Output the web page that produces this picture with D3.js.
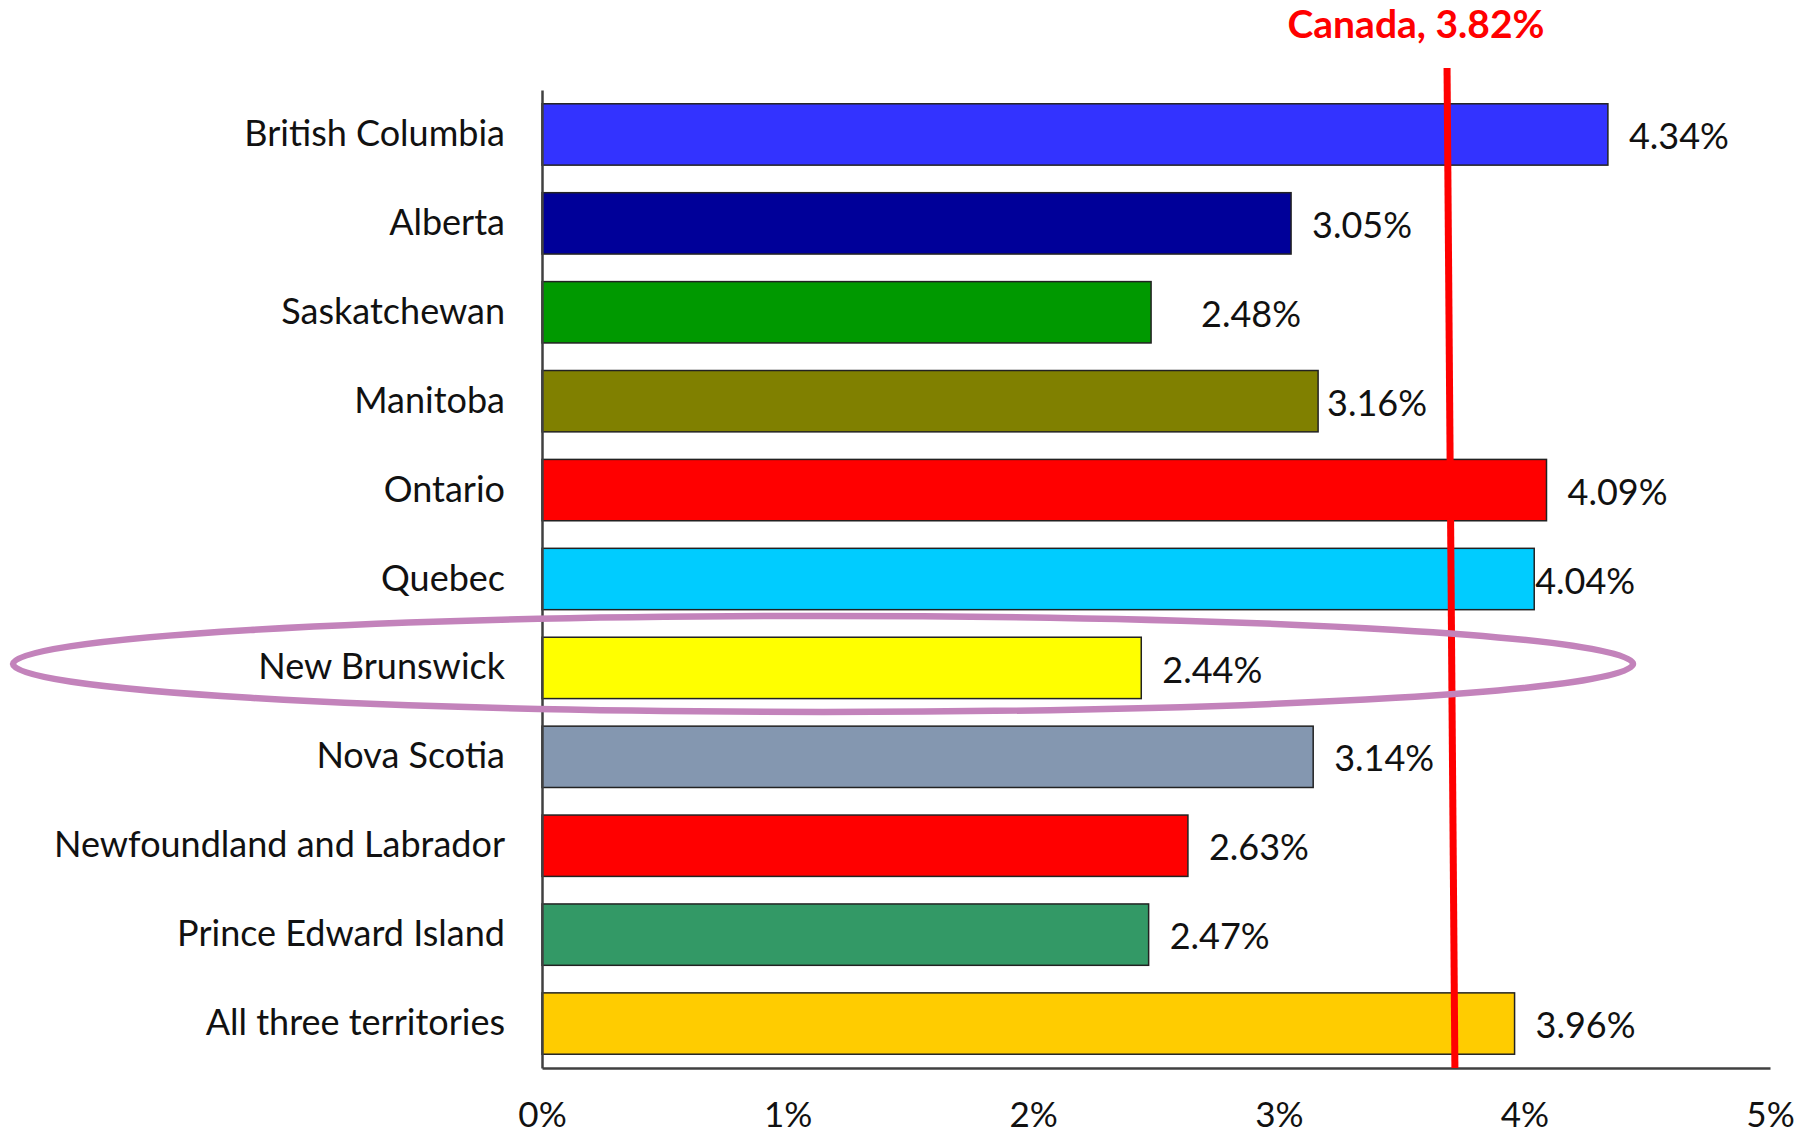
<!DOCTYPE html>
<html>
<head>
<meta charset="utf-8">
<script src="https://cdn.jsdelivr.net/npm/d3@7"></script>
<style>
  body { margin: 0; background: #fff; }
  svg { display: block; }
</style>
</head>
<body>
<svg id="chart"></svg>
<script>
// data
const provinces = [
  "British Columbia", "Alberta", "Saskatchewan", "Manitoba", "Ontario", "Quebec",
  "New Brunswick", "Nova Scotia", "Newfoundland and Labrador", "Prince Edward Island",
  "All three territories"
];
const shares = [4.34, 3.05, 2.48, 3.16, 4.09, 4.04, 2.44, 3.14, 2.63, 2.47, 3.96];
const barColors = [
  "#3333ff", "#000099", "#009900", "#808000", "#ff0000", "#00ccff",
  "#ffff00", "#8497b0", "#ff0000", "#339966", "#ffcc00"
];
const xTicks = [0, 1, 2, 3, 4, 5];
const canadaLabel = "Canada, 3.82%";
const canadaLine = [3.685, 3.717]; // drawn slightly slanted in the original
const highlighted = "New Brunswick";

const svgWidth = 1799;
const svgHeight = 1136;
const font = "Lato, 'Open Sans', sans-serif";
const fontSize = 36;

let svg = d3.select("#chart")
  .attr("width", svgWidth)
  .attr("height", svgHeight);

svg.append("rect")
  .attr("width", svgWidth)
  .attr("height", svgHeight)
  .style("fill", "#fff");

let x = d3.scaleLinear()
  .domain([0, 5])
  .range([542, 1770]);
let y = d3.scaleBand()
  .domain(provinces)
  .range([90, 1068])
  .paddingInner(0.31)
  .paddingOuter(0.155);

// bars
svg.selectAll(".bar")
  .data(provinces)
  .enter()
  .append("rect")
  .attr("class", "bar")
  .attr("x", x(0))
  .attr("y", d => y(d))
  .attr("width", (d, i) => x(shares[i]) - x(0))
  .attr("height", y.bandwidth())
  .style("fill", (d, i) => barColors[i])
  .style("stroke", "#222")
  .style("stroke-width", 1.5);

// value labels, a few were nudged by hand in the original
let nudge = { "Saskatchewan": 29, "Manitoba": -12, "Quebec": -20 };
svg.selectAll(".value")
  .data(provinces)
  .enter()
  .append("text")
  .attr("class", "value")
  .attr("x", (d, i) => x(shares[i]) + 21 + (nudge[d] || 0))
  .attr("y", d => y(d) + y.bandwidth() / 2 + 2)
  .attr("dy", "0.35em")
  .text((d, i) => shares[i].toFixed(2) + "%")
  .style("font-family", font)
  .style("font-size", fontSize)
  .style("fill", "#111");

// x-axis
svg.append("g")
  .attr("transform", "translate(0," + y.range()[1] + ")")
  .call(d3.axisBottom(x).tickValues(xTicks).tickFormat(d => d + "%").tickSize(0).tickSizeOuter(0))
  .call(g => g.select(".domain").style("stroke", "#404040").style("stroke-width", 2.5))
  .selectAll(".tick text")
  .attr("y", 47)
  .attr("dy", "0.35em")
  .style("font-family", font)
  .style("font-size", 35)
  .style("fill", "#111");

// y-axis
svg.append("g")
  .attr("transform", "translate(" + x(0) + ",0)")
  .call(d3.axisLeft(y).tickSize(0).tickSizeOuter(0).tickPadding(37))
  .call(g => g.select(".domain").style("stroke", "#404040").style("stroke-width", 2.5))
  .selectAll(".tick text")
  .style("font-family", font)
  .style("font-size", fontSize)
  .style("fill", "#111");

// Canada average line
svg.append("line")
  .attr("x1", x(canadaLine[0]))
  .attr("y1", 68)
  .attr("x2", x(canadaLine[1]))
  .attr("y2", y.range()[1])
  .style("stroke", "#ff0000")
  .style("stroke-width", 7);

svg.append("text")
  .attr("x", x(canadaLine[0]) - 31)
  .attr("y", 38)
  .attr("text-anchor", "middle")
  .text(canadaLabel)
  .style("font-family", font)
  .style("font-weight", "bold")
  .style("font-size", 39)
  .style("fill", "#ff0000");

// highlight ellipse
svg.append("ellipse")
  .attr("cx", 823)
  .attr("cy", y(highlighted) + y.bandwidth() / 2 - 4)
  .attr("rx", 810)
  .attr("ry", 48)
  .style("fill", "none")
  .style("stroke", "#c383bb")
  .style("stroke-width", 6.5);
</script>
</body>
</html>
